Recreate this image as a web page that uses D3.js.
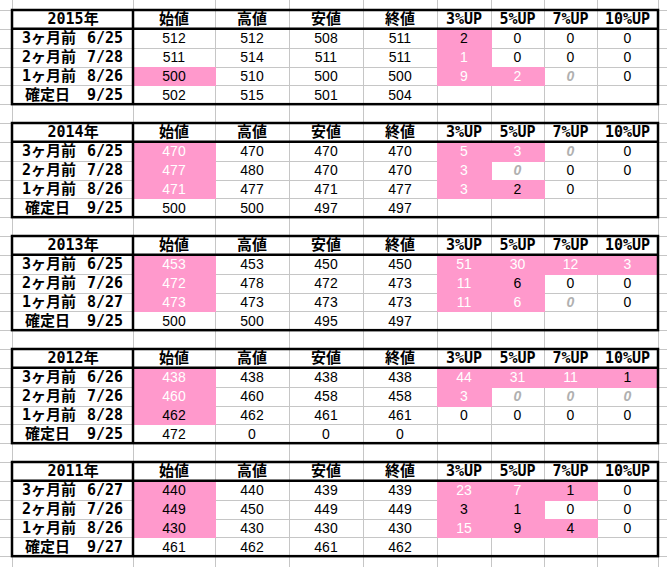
<!DOCTYPE html>
<html>
<head>
<meta charset="utf-8">
<script src="https://cdn.jsdelivr.net/npm/d3@7"></script>
<style>
  body{margin:0;background:#fff}
  svg{display:block}
</style>
</head>
<body>
<script>
// table contents
const years = ["2015","2014","2013","2012","2011"]
const colHeads = ["始値","高値","安値","終値","3%UP","5%UP","7%UP","10%UP"]
const rowNames = ["3ヶ月前","2ヶ月前","1ヶ月前","確定日"]

const dates2015 = ["6/25","7/28","8/26","9/25"]
const dates2014 = ["6/25","7/28","8/26","9/25"]
const dates2013 = ["6/25","7/26","8/27","9/25"]
const dates2012 = ["6/26","7/26","8/28","9/25"]
const dates2011 = ["6/27","7/26","8/26","9/27"]

const v2015 = [[512,512,508,511,2,0,0,0],[511,514,511,511,1,0,0,0],[500,510,500,500,9,2,0,0],[502,515,501,504,null,null,null,null]]
const v2014 = [[470,470,470,470,5,3,0,0],[477,480,470,470,3,0,0,0],[471,477,471,477,3,2,0,null],[500,500,497,497,null,null,null,null]]
const v2013 = [[453,453,450,450,51,30,12,3],[472,478,472,473,11,6,0,0],[473,473,473,473,11,6,0,0],[500,500,495,497,null,null,null,null]]
const v2012 = [[438,438,438,438,44,31,11,1],[460,460,458,458,3,0,0,0],[462,462,461,461,0,0,0,0],[472,0,0,0,null,null,null,null]]
const v2011 = [[440,440,439,439,23,7,1,0],[449,450,449,449,3,1,0,0],[430,430,430,430,15,9,4,0],[461,462,461,462,null,null,null,null]]

// cell highlight: w = pink/white text, k = pink/black text, g = grey italic
const m2015 = ["....k...","....w...","k...wwg.","........"]
const m2014 = ["w...wwg.","w...wg..","w...wk..","........"]
const m2013 = ["w...wwww","w...wk..","w...wwg.","........"]
const m2012 = ["w...wwwk","w...wggg","k.......","........"]
const m2011 = ["k...wwk.","k...kk..","k...wkk.","........"]

const blocks = [
  {year:years[0],dates:dates2015,vals:v2015,marks:m2015},
  {year:years[1],dates:dates2014,vals:v2014,marks:m2014},
  {year:years[2],dates:dates2013,vals:v2013,marks:m2013},
  {year:years[3],dates:dates2012,vals:v2012,marks:m2012},
  {year:years[4],dates:dates2011,vals:v2011,marks:m2011}
]

const W = 667, H = 567
const pink = "#ff99cc"
const colW = [121,82,74,74,74,54,53,53,61]
const left0 = 12
const edges = [left0, ...d3.cumsum(colW).map(d=>d+left0)]
const xLeft = d3.scaleOrdinal().domain(d3.range(edges.length)).range(edges)
const xMid = i=>(xLeft(i)+xLeft(i+1))/2
const rowH = 113/6
const y = d3.scaleLinear().domain([0,30]).range([10,10+30*rowH])
const py = v=>Math.round(y(v))

const svg = d3.select("body").append("svg").attr("width",W).attr("height",H)

// sheet gridlines
const grid = svg.append("g").attr("stroke","#c6c6c6").attr("stroke-width",1)
grid.selectAll("line.h").data(d3.range(-1,31)).join("line")
  .attr("x1",0).attr("x2",W)
  .attr("y1",d=>py(d)+0.5).attr("y2",d=>py(d)+0.5)
grid.selectAll("line.v").data(edges).join("line")
  .attr("y1",0).attr("y2",H)
  .attr("x1",d=>d+0.5).attr("x2",d=>d+0.5)

const monoFont = "'DejaVu Sans Mono',monospace"
const cjkFont = "'Noto Sans CJK JP',sans-serif"
const boldFont = "'DejaVu Sans Mono','Noto Sans CJK JP',sans-serif"
const numFont = "'Liberation Sans',Arial,sans-serif"

blocks.forEach((b,bi)=>{
  let r0 = bi*6
  let g = svg.append("g").attr("class","block")
  let cells = []
  b.vals.forEach((row,ri)=>{
    row.forEach((v,ci)=>{
      cells.push({v:v,mark:b.marks[ri][ci],r:r0+1+ri,c:ci+1})
    })
  })
  // fills (cover the sheet gridlines like excel does)
  g.selectAll("rect").data(cells.filter(d=>d.mark==="w"||d.mark==="k")).join("rect")
    .attr("x",d=>xLeft(d.c)).attr("width",d=>xLeft(d.c+1)-xLeft(d.c)+1)
    .attr("y",d=>py(d.r)).attr("height",d=>py(d.r+1)-py(d.r)+1)
    .attr("fill",pink)
  // numbers
  g.selectAll("text.num").data(cells.filter(d=>d.v!==null)).join("text")
    .attr("class","num")
    .attr("x",d=>xMid(d.c)).attr("y",d=>(y(d.r)+y(d.r+1))/2+5)
    .attr("text-anchor","middle")
    .attr("font-family",numFont).attr("font-size",14)
    .attr("font-style",d=>d.mark==="g"?"italic":"normal")
    .attr("font-weight",d=>d.mark==="g"?"bold":"normal")
    .attr("fill",d=>d.mark==="w"?"#fff":d.mark==="g"?"#b0b0b0":"#000")
    .text(d=>d.v)
  // header row
  let hy = (y(r0)+y(r0+1))/2+5
  let yt = g.append("text").attr("x",xMid(0)-25).attr("y",hy)
    .attr("font-size",15).attr("font-weight","bold")
  yt.append("tspan").attr("font-family",monoFont).text(b.year)
  yt.append("tspan").attr("font-family",cjkFont).text("年")
  g.selectAll("text.head").data(colHeads).join("text").attr("class","head")
    .attr("x",(d,i)=>xMid(i+1)).attr("y",hy)
    .attr("text-anchor","middle")
    .attr("font-family",(d,i)=>i<4?cjkFont:monoFont)
    .attr("font-size",15).attr("font-weight","bold").text(d=>d)
  // row labels
  g.selectAll("text.name").data(rowNames).join("text").attr("class","name")
    .attr("x",(d,i)=>i===3?25:22).attr("y",(d,i)=>(y(r0+1+i)+y(r0+2+i))/2+5)
    .attr("font-family",boldFont).attr("font-size",15).attr("font-weight","bold")
    .text(d=>d)
  g.selectAll("text.date").data(b.dates).join("text").attr("class","date")
    .attr("x",123).attr("y",(d,i)=>(y(r0+1+i)+y(r0+2+i))/2+5)
    .attr("text-anchor","end")
    .attr("font-family",monoFont).attr("font-size",15).attr("font-weight","bold")
    .text(d=>d)
  // borders
  let top = y(r0), bot = y(r0+5)
  g.append("rect").attr("x",xLeft(0)).attr("y",top)
    .attr("width",xLeft(9)-xLeft(0)).attr("height",bot-top)
    .attr("fill","none").attr("stroke","#000").attr("stroke-width",2.5)
  g.append("line").attr("x1",xLeft(0)).attr("x2",xLeft(9))
    .attr("y1",y(r0+1)).attr("y2",y(r0+1)).attr("stroke","#000").attr("stroke-width",2.5)
  g.append("line").attr("x1",xLeft(1)).attr("x2",xLeft(1))
    .attr("y1",top).attr("y2",bot).attr("stroke","#000").attr("stroke-width",2.5)
})
</script>
</body>
</html>
